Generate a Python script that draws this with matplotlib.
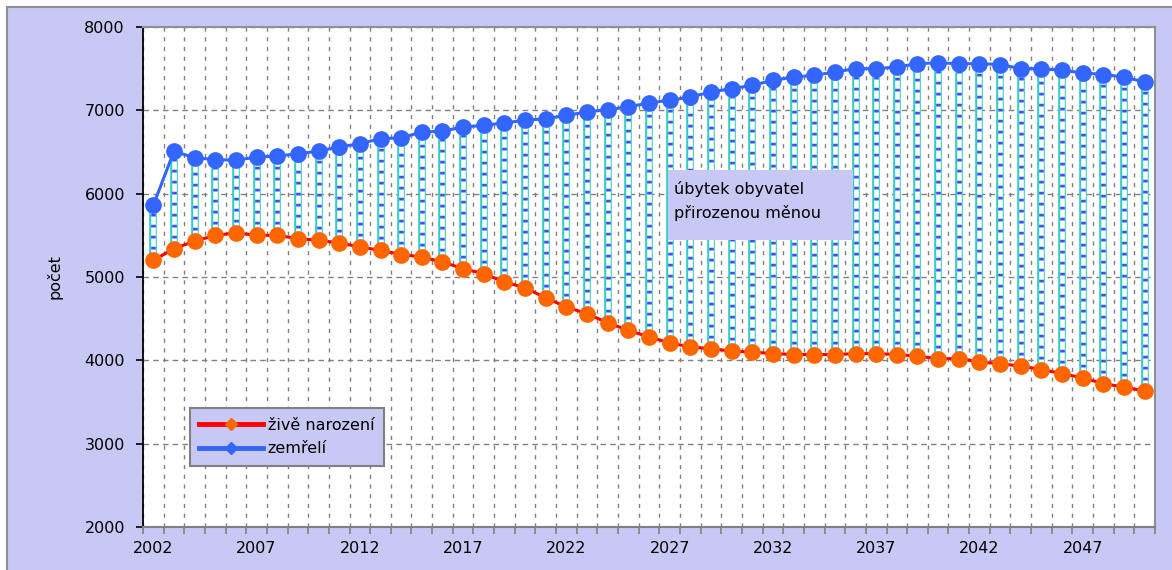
import numpy as np
import matplotlib.pyplot as plt
from matplotlib.lines import Line2D
from matplotlib.patches import Rectangle

plt.rcParams['font.family'] = ['DejaVu Sans']

# data
years = list(range(2002, 2051))
narozeni = [5200, 5340, 5430, 5500, 5530, 5500, 5500, 5460, 5440, 5410,
            5360, 5320, 5270, 5240, 5180, 5100, 5040, 4940, 4870, 4750,
            4640, 4560, 4450, 4360, 4280, 4210, 4160, 4140, 4110, 4100,
            4080, 4070, 4070, 4070, 4080, 4080, 4070, 4050, 4020, 4020,
            3980, 3960, 3930, 3890, 3840, 3790, 3720, 3680, 3630]
zemreli = [5860, 6510, 6430, 6410, 6400, 6440, 6450, 6480, 6510, 6560,
           6600, 6660, 6670, 6740, 6750, 6800, 6820, 6850, 6880, 6900,
           6940, 6980, 7010, 7040, 7090, 7120, 7160, 7220, 7260, 7300,
           7360, 7400, 7420, 7460, 7500, 7500, 7520, 7560, 7570, 7560,
           7560, 7550, 7500, 7500, 7480, 7450, 7430, 7400, 7340]
legend_labels = ['živě narození', 'zemřelí']
note = 'úbytek obyvatel\npřirozenou měnou'

lav = '#C8C8F5'
fs = 11.5
x = np.arange(len(years))

fig = plt.figure(figsize=(11.72, 5.70), dpi=100)
bg = Rectangle((7 / 1172, -0.01), 1.02, (570 - 7) / 570 + 0.01,
               transform=fig.transFigure, facecolor=lav,
               edgecolor='#909090', lw=1.5)
bg.set_zorder(-10)
fig.patches.append(bg)
ax = fig.add_axes([143 / 1172, 43 / 570, 1012 / 1172, 500 / 570])
ax.set_facecolor('white')

# spojnice (drop lines)
ax.vlines(x, narozeni, zemreli, color='#33CCCC', lw=5.5, zorder=2, capstyle='butt')
ax.vlines(x, narozeni, zemreli, color='white', lw=3.3, zorder=2.1, capstyle='butt')
ax.vlines(x, narozeni, zemreli, color='#3355EE', lw=3.3, zorder=2.2,
          linestyles=(0, (0.6, 1.8)))

ax.plot(x, narozeni, color='#FF0000', lw=2.2, marker='o', ms=11,
        mfc='#FF6600', mec='#FF6600', zorder=4)
ax.plot(x, zemreli, color='#3366FF', lw=2.2, marker='o', ms=11,
        mfc='#3366FF', mec='#3366FF', zorder=4)

ax.set_xlim(-0.5, len(years) - 0.5)
ax.set_ylim(2000, 8000)
ax.set_yticks(range(2000, 8001, 1000))
ax.set_xticks(x[::5])
ax.set_xticklabels([str(y) for y in years[::5]])
ax.set_xticks(np.arange(-0.5, len(years), 1), minor=True)
ax.tick_params(axis='x', which='major', length=0, pad=10, labelsize=fs)
ax.tick_params(axis='x', which='minor', length=5, width=1.2, color='#808080')
ax.tick_params(axis='y', length=5, width=1.2, pad=8, labelsize=fs)

ax.grid(axis='y', which='major', color='#808080', lw=1, ls=(0, (4, 3)), zorder=1)
ax.grid(axis='x', which='minor', color='#808080', lw=1, ls=(0, (3, 4)), zorder=1)
ax.set_axisbelow(True)

for s in ['top', 'right']:
    ax.spines[s].set_color('#909090')
    ax.spines[s].set_linewidth(1.5)
ax.spines['left'].set_color('black')
ax.spines['bottom'].set_color('#808080')
ax.spines['left'].set_linewidth(1.3)
ax.spines['bottom'].set_linewidth(1.5)

ax.set_ylabel('počet', fontsize=fs)
ax.yaxis.set_label_coords(-0.08, 0.5)

# popis
ax.add_patch(Rectangle((0.519, 0.574), 0.183, 0.14, transform=ax.transAxes,
                       facecolor=lav, edgecolor='none', zorder=3))
ax.text(0.525, 0.652, note, transform=ax.transAxes, fontsize=fs,
        va='center', ha='left', linespacing=1.6, zorder=3.5)

handles = [Line2D([], [], color='#FF0000', lw=3.5, marker='D', ms=6,
                  mfc='#FF6600', mec='#FF6600'),
           Line2D([], [], color='#3366FF', lw=3.5, marker='D', ms=6,
                  mfc='#3366FF', mec='#3366FF')]
leg = ax.legend(handles, legend_labels, loc='lower left',
                bbox_to_anchor=(0.046, 0.122), borderaxespad=0,
                fontsize=fs, handlelength=4.0, handletextpad=0.3,
                labelspacing=0.55, borderpad=0.6, fancybox=False,
                framealpha=1, facecolor=lav, edgecolor='#808080')
leg.get_frame().set_linewidth(1.5)

fig.savefig('out.png', dpi=100)
